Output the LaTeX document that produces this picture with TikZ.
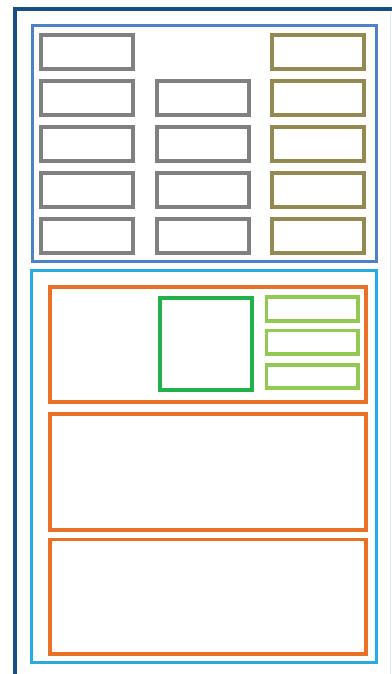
\documentclass[tikz,border=0pt]{standalone}
\definecolor{frameblue}{HTML}{1B4E80}
\definecolor{steelblue}{HTML}{4F81C6}
\definecolor{boxgray}{HTML}{808080}
\definecolor{olive}{HTML}{938A52}
\definecolor{skyblue}{HTML}{29ABE2}
\definecolor{orangebox}{HTML}{E8712A}
\definecolor{greenbox}{HTML}{22B04B}
\definecolor{lightgreen}{HTML}{92C952}
\definecolor{faintedge}{HTML}{E4EAF1}
\tikzset{
  box/.style={draw, inner sep=0pt, outer sep=0pt, line width=3.6pt, fill=none},
  graybox/.style={box, draw=boxgray, minimum width=92pt, minimum height=34pt},
  olivebox/.style={box, draw=olive, minimum width=92pt, minimum height=34pt},
  lgbox/.style={box, draw=lightgreen, minimum width=91.5pt, minimum height=23.5pt},
  orbox/.style={box, draw=orangebox, minimum width=316pt},
}
\begin{document}
\begin{tikzpicture}[x=1pt,y=-1pt]
\useasboundingbox (0,0) rectangle (391,674);
% outer frame (clipped at right and bottom)
\draw[frameblue, line width=4pt] (15,680) |- (400,9);
\draw[faintedge, line width=1pt] (390,11) -- (390,680);
% upper container
\node[box, draw=steelblue, line width=3pt, minimum width=344pt, minimum height=236pt] (top) at (204,143.5) {};
% gray column 1
\foreach \r/\y in {1/52,2/98,3/144,4/190,5/236}{
  \node[graybox] (a\r) at (87,\y) {};
}
% gray column 2
\foreach \r/\y in {2/98,3/144,4/190,5/236}{
  \node[graybox] (b\r) at (203,\y) {};
}
% olive column 3
\foreach \r/\y in {1/52,2/98,3/144,4/190,5/236}{
  \node[olivebox] (c\r) at (318,\y) {};
}
% lower container
\node[box, draw=skyblue, line width=3pt, minimum width=344.5pt, minimum height=392pt] (bottom) at (203.75,466) {};
% orange panels
\node[orbox, minimum height=115pt] (o1) at (208,344.5) {};
\node[orbox, minimum height=116pt] (o2) at (208,472) {};
\node[orbox, minimum height=114.5pt] (o3) at (208,596.75) {};
% green square
\node[box, draw=greenbox, minimum width=92pt, minimum height=92pt] (sq) at (206,344) {};
% light green boxes
\node[lgbox] (l1) at (312.25,309) {};
\node[lgbox] (l2) at (312.25,342.25) {};
\node[lgbox] (l3) at (312.25,376.5) {};
\end{tikzpicture}
\end{document}
